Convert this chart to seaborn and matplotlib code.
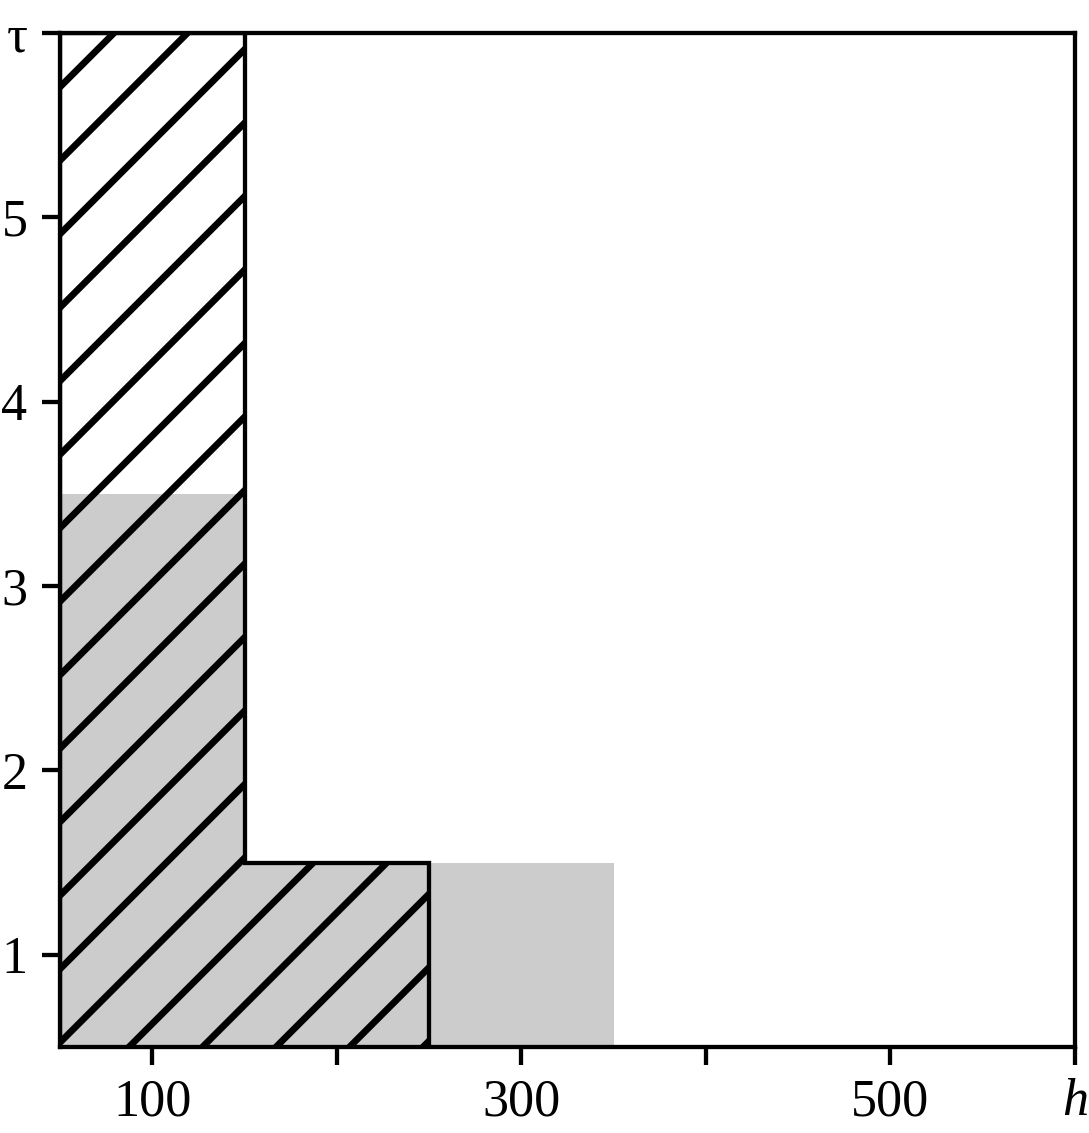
import matplotlib

matplotlib.use("Agg")
import matplotlib.pyplot as plt
import seaborn as sns

# Step regions (edges along h, heights along tau), common baseline
baseline = 0.5
gray_edges = [50, 150, 350]
gray_heights = [3.5, 1.5]
hatch_edges = [50, 150, 250]
hatch_heights = [6.0, 1.5]

x_ticks = [100, 200, 300, 400, 500, 600]
x_labels = ["100", "", "300", "", "500", "h"]
y_ticks = [1, 2, 3, 4, 5, 6]
y_labels = ["1", "2", "3", "4", "5", "τ"]

DPI = 441  # hatch tile is one inch, so this sets the hatch spacing

sns.set_theme(
    style="ticks",
    rc={
        "axes.linewidth": 0.7,
        "xtick.major.size": 2.9,
        "ytick.major.size": 2.9,
        "xtick.major.width": 0.7,
        "ytick.major.width": 0.7,
        "xtick.major.pad": 2.2,
        "ytick.major.pad": 2.4,
        "hatch.linewidth": 1.1,
        "axes.edgecolor": "black",
        "xtick.color": "black",
        "ytick.color": "black",
    },
)
plt.rcParams["font.family"] = ["Liberation Serif", "DejaVu Serif"]
plt.rcParams["font.size"] = 8.5

figure = plt.figure(figsize=(1089 / DPI, 1133 / DPI), dpi=DPI)
axis = figure.add_axes([0.0551, 0.0759, 0.9320, 0.8950])

axis.stairs(
    gray_heights,
    gray_edges,
    baseline=baseline,
    fill=True,
    facecolor="#cccccc",
    edgecolor="none",
    linewidth=0,
)
axis.stairs(
    hatch_heights,
    hatch_edges,
    baseline=baseline,
    fill=True,
    facecolor="none",
    edgecolor="black",
    hatch="//",
    linewidth=0.7,
)

axis.set_xlim(50, 600)
axis.set_ylim(0.5, 6)
axis.set_xticks(x_ticks)
axis.set_xticklabels(x_labels, fontsize=8.5)
axis.set_yticks(y_ticks)
axis.set_yticklabels(y_labels, fontsize=8.5)
axis.get_xticklabels()[-1].set_fontstyle("italic")
axis.grid(False)
for spine in axis.spines.values():
    spine.set_visible(True)

figure.savefig("out.png", dpi=DPI)
plt.close()
